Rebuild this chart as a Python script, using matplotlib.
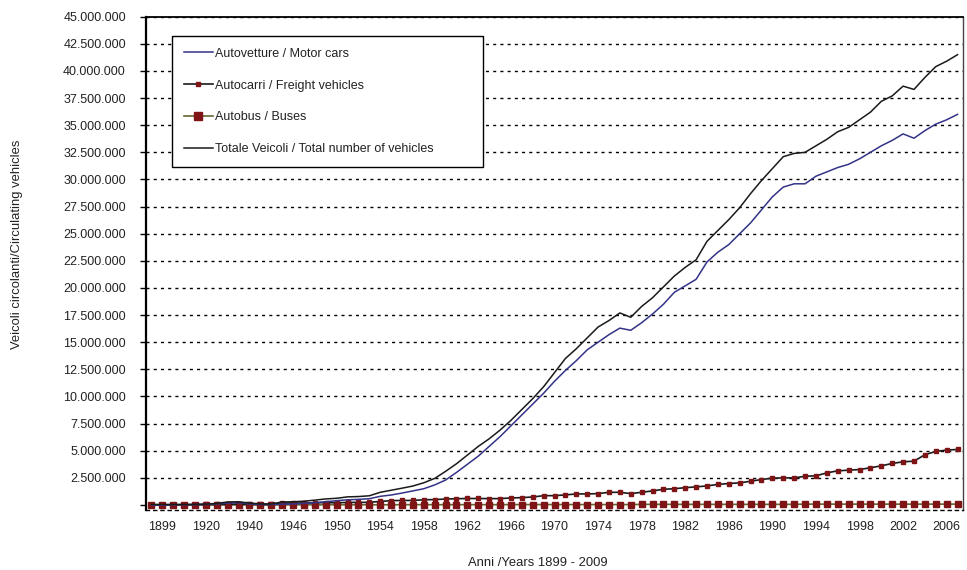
import matplotlib
matplotlib.use('Agg')
import matplotlib.pyplot as plt
from matplotlib.lines import Line2D

plt.rcParams['font.family'] = ['Liberation Sans', 'DejaVu Sans']
plt.rcParams['lines.scale_dashes'] = False

# categorie (anni) dell'asse x
anni = ['1898', '1899', '1905', '1910', '1915', '1920', '1925', '1930', '1935', '1940',
        '1941', '1943', '1945'] + [str(a) for a in range(1946, 2008)]
etichette_x = ['1899', '1920', '1940'] + [str(a) for a in range(1946, 2007, 4)]

# valori in milioni di veicoli
autovetture = [0.01, 0.01, 0.02, 0.02, 0.03, 0.05, 0.1, 0.18, 0.22, 0.1,
               0.05, 0.05, 0.08, 0.1, 0.15, 0.22, 0.3, 0.4, 0.48, 0.52,
               0.58, 0.8, 0.92, 1.1, 1.3, 1.5, 1.85, 2.3, 3.0, 3.75,
               4.5, 5.4, 6.3, 7.3, 8.3, 9.3, 10.3, 11.4, 12.4, 13.3,
               14.3, 15.0, 15.7, 16.3, 16.1, 16.8, 17.6, 18.5, 19.6, 20.2,
               20.8, 22.4, 23.3, 24.0, 25.0, 26.0, 27.2, 28.4, 29.3, 29.6,
               29.6, 30.3, 30.7, 31.1, 31.4, 31.9, 32.5, 33.1, 33.6, 34.2,
               33.8, 34.5, 35.1, 35.5, 36.0]
autocarri = [0.02, 0.02, 0.03, 0.03, 0.04, 0.05, 0.05, 0.08, 0.08, 0.07,
             0.05, 0.05, 0.18, 0.18, 0.18, 0.2, 0.22, 0.2, 0.24, 0.24,
             0.25, 0.33, 0.4, 0.42, 0.42, 0.48, 0.5, 0.55, 0.58, 0.6,
             0.6, 0.59, 0.59, 0.65, 0.68, 0.74, 0.86, 0.86, 0.93, 1.02,
             1.02, 1.05, 1.17, 1.17, 1.05, 1.17, 1.3, 1.45, 1.5, 1.6,
             1.67, 1.76, 1.9, 1.98, 2.04, 2.19, 2.35, 2.47, 2.5, 2.5,
             2.65, 2.69, 2.96, 3.15, 3.21, 3.27, 3.43, 3.61, 3.83, 3.98,
             4.04, 4.63, 4.94, 5.06, 5.12]
autobus = [0.005] * 13 + [0.02] * 10 + [0.03] * 10 + [0.04] * 12 + [0.06] * 15 + [0.08] * 15
totale = [0.05, 0.05, 0.05, 0.05, 0.06, 0.08, 0.15, 0.28, 0.3, 0.18,
          0.1, 0.1, 0.28, 0.3, 0.35, 0.45, 0.56, 0.62, 0.75, 0.78,
          0.85, 1.17, 1.36, 1.55, 1.75, 2.05, 2.45, 3.1, 3.8, 4.6,
          5.4, 6.1, 6.9, 7.8, 8.8, 9.8, 10.9, 12.2, 13.5, 14.4,
          15.4, 16.4, 17.0, 17.7, 17.3, 18.3, 19.1, 20.1, 21.1, 21.9,
          22.6, 24.3, 25.3, 26.3, 27.4, 28.7, 29.9, 31.0, 32.1, 32.4,
          32.5, 33.1, 33.7, 34.4, 34.8, 35.5, 36.2, 37.2, 37.7, 38.6,
          38.3, 39.4, 40.4, 40.9, 41.5]

nomi = ['Autovetture / Motor cars', 'Autocarri / Freight vehicles',
        'Autobus / Buses', 'Totale Veicoli / Total number of vehicles']

rosso = '#7f1416'
x = list(range(len(anni)))
M = 1e6

fig = plt.figure(figsize=(9.67, 5.70), dpi=100)
ax = fig.add_axes([146 / 967, 1 - 510 / 570, 817 / 967, 493.3 / 570])

# griglia orizzontale tratteggiata
yt = [i * 2.5e6 for i in range(19)]
for v in yt[1:]:
    ax.axhline(v, color='black', lw=1.0, dashes=(2.2, 3.0), zorder=1)

ax.plot(x, [v * M for v in autobus], color='#666633', lw=1.2, marker='s', ms=5,
        mfc=rosso, mec=rosso, zorder=3)
ax.plot(x, [v * M for v in autocarri], color='#1a1a1a', lw=1.2, marker='s', ms=3.4,
        mfc=rosso, mec=rosso, zorder=4)
ax.plot(x, [v * M for v in autovetture], color='#333388', lw=1.1, zorder=5)
ax.plot(x, [v * M for v in totale], color='#1a1a1a', lw=1.1, zorder=6)

ax.set_xlim(-0.5, len(anni) - 0.5)
ax.set_ylim(-0.46e6, 45e6)
ax.set_yticks(yt)
ax.set_yticklabels([''] + [f'{v:,.0f}'.replace(',', '.') for v in yt[1:]])
ax.set_xticks([anni.index(a) for a in etichette_x])
ax.set_xticklabels(etichette_x)
ax.tick_params(axis='y', length=4.5, width=1, direction='out', pad=10,
               labelsize=9, labelcolor='#222222')
ax.tick_params(axis='x', length=0, pad=8, labelsize=9, labelcolor='#222222')

ax.spines['left'].set_linewidth(1.6)
ax.spines['top'].set_linewidth(1.3)
ax.spines['right'].set_linewidth(1.0)
ax.spines['right'].set_color('#444444')
ax.spines['bottom'].set_linestyle((0, (2.2, 3.0)))
ax.spines['bottom'].set_linewidth(1.0)

maniglie = [
    Line2D([], [], color='#333388', lw=1.1),
    Line2D([], [], color='#1a1a1a', lw=1.2, marker='s', ms=3.2, mfc=rosso, mec=rosso),
    Line2D([], [], color='#666633', lw=1.2, marker='s', ms=5.5, mfc=rosso, mec=rosso),
    Line2D([], [], color='#1a1a1a', lw=1.1),
]
leg = ax.legend(maniglie, nomi, loc='upper left',
                bbox_to_anchor=(0.032, 0.699, 0.381, 0.262), mode='expand',
                borderaxespad=0, fontsize=9, labelspacing=1.58, handlelength=2.3,
                handletextpad=0.2, borderpad=0.95, fancybox=False, framealpha=1,
                edgecolor='black')
leg.get_frame().set_linewidth(1.0)
for t in leg.get_texts():
    t.set_color('#222222')

fig.text(17 / 967, 1 - 244 / 570, 'Veicoli circolanti/Circulating vehicles',
         rotation=90, ha='center', va='center', fontsize=9.4, color='#222222')
fig.text(538 / 967, 1 - 563 / 570, 'Anni /Years 1899 - 2009',
         ha='center', va='center', fontsize=9.4, color='#222222')

fig.savefig('out.png', dpi=100)
